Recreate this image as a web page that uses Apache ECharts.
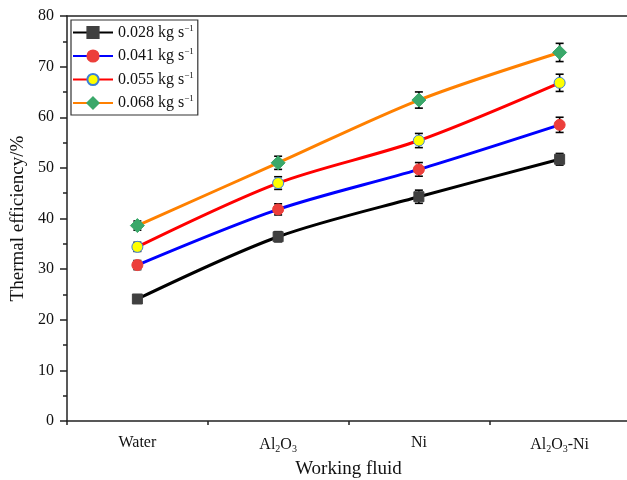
<!DOCTYPE html>
<html>
<head>
<meta charset="utf-8">
<script src="https://cdn.jsdelivr.net/npm/echarts@6/dist/echarts.min.js"></script>
<style>html,body{margin:0;padding:0;background:#fff}#c{width:627px;height:480px}</style>
</head>
<body>
<div id="c"></div>
<script>
const categories = ['Water', 'Al2O3', 'Ni', 'Al2O3-Ni'];
const seriesNames = ['0.028 kg s-1', '0.041 kg s-1', '0.055 kg s-1', '0.068 kg s-1'];
const values028 = [24.1, 36.4, 44.3, 51.7];
const values041 = [30.8, 41.8, 49.7, 58.5];
const values055 = [34.4, 47.0, 55.4, 66.8];
const values068 = [38.6, 51.0, 63.4, 72.8];
const errors028 = [0.8, 1.0, 1.3, 1.15];
const errors041 = [0.9, 1.1, 1.35, 1.5];
const errors055 = [0.9, 1.25, 1.4, 1.7];
const errors068 = [0.9, 1.3, 1.6, 1.8];
const yTicks = [0, 10, 20, 30, 40, 50, 60, 70, 80];

const FONT = '"Liberation Serif", "Times New Roman", serif';
const chart = echarts.init(document.getElementById('c'), null, {renderer: 'canvas'});

const styles = [
  {line: '#000000', fill: '#404040', border: '#404040', symbol: 'rect', size: 10},
  {line: '#0000ff', fill: '#ec3f3b', border: '#ec3f3b', symbol: 'circle', size: 11},
  {line: '#ff0000', fill: '#ffff00', border: '#3b7fd8', symbol: 'circle', size: 11},
  {line: '#ff8000', fill: '#3aa86a', border: '#3aa86a', symbol: 'diamond', size: 14}
];
const vals = [values028, values041, values055, values068];
const errs = [errors028, errors041, errors055, errors068];

function catLabel(s) {
  let out = '';
  s.split(/(\d)/).forEach(p => {
    if (p === '') return;
    if (/^\d$/.test(p)) out += '{s|' + p + '}';
    else out += '{n|' + p + '}';
  });
  return out;
}
function legLabel(s) {
  const m = s.match(/^(.*s)(-1)$/);
  return '{n|' + m[1] + '}{p|\u22121}';
}

const series = [];
vals.forEach((v, i) => {
  series.push({
    type: 'custom',
    name: 'err' + i,
    xAxisIndex: 0, yAxisIndex: 0,
    z: 2,
    silent: true,
    data: v.map((y, k) => [k, y, errs[i][k]]),
    renderItem: function(params, api) {
      const x = api.value(0), y = api.value(1), e = api.value(2);
      const t = api.coord([x, y + e]);
      const b = api.coord([x, y - e]);
      const w = 4;
      const ls = {stroke: '#000', lineWidth: 1.6};
      return {type: 'group', children: [
        {type: 'line', shape: {x1: t[0], y1: t[1], x2: b[0], y2: b[1]}, style: ls},
        {type: 'line', shape: {x1: t[0] - w, y1: t[1], x2: t[0] + w, y2: t[1]}, style: ls},
        {type: 'line', shape: {x1: b[0] - w, y1: b[1], x2: b[0] + w, y2: b[1]}, style: ls}
      ]};
    }
  });
});
vals.forEach((v, i) => {
  const st = styles[i];
  series.push({
    type: 'line',
    name: seriesNames[i],
    data: v,
    smooth: 0.3,
    z: 3,
    symbol: st.symbol,
    symbolSize: st.size,
    lineStyle: {color: st.line, width: 3},
    itemStyle: {color: st.fill, borderColor: st.border, borderWidth: 1},
    emphasis: {disabled: true}
  });
});

const option = {
  animation: false,
  backgroundColor: '#fff',
  grid: {left: 67, width: 563, top: 16, bottom: 59, containLabel: false, outerBoundsMode: 'none'},
  legend: {
    data: seriesNames,
    orient: 'vertical',
    left: 71, top: 20,
    itemWidth: 40, itemHeight: 14,
    itemGap: 7,
    padding: [4, 4, 4, 1],
    borderColor: '#333', borderWidth: 1.2,
    formatter: legLabel,
    textStyle: {
      fontFamily: FONT, fontSize: 16, color: '#111',
      rich: {
        n: {fontFamily: FONT, fontSize: 16, color: '#111'},
        p: {fontFamily: FONT, fontSize: 9, color: '#111', padding: [0, 0, 8, 0]}
      }
    }
  },
  xAxis: [{
    type: 'category',
    data: categories,
    boundaryGap: true,
    name: 'Working fluid',
    nameLocation: 'middle',
    nameGap: 39,
    nameTextStyle: {fontFamily: FONT, fontSize: 19, color: '#111'},
    axisLine: {lineStyle: {color: '#222', width: 1.5}},
    axisTick: {alignWithLabel: true, length: 7, lineStyle: {color: '#222', width: 1.5}},
    axisLabel: {
      margin: 14,
      interval: 0,
      formatter: catLabel,
      fontFamily: FONT, fontSize: 16,
      color: '#111',
      rich: {
        n: {fontFamily: FONT, fontSize: 16, color: '#111'},
        s: {fontFamily: FONT, fontSize: 10, color: '#111', padding: [9, 0, 0, 0]}
      }
    },
    splitLine: {show: false}
  }, {
    type: 'category',
    data: categories,
    boundaryGap: true,
    position: 'bottom',
    axisLine: {show: false},
    axisTick: {show: true, interval: 0, length: 4, lineStyle: {color: '#222', width: 1.5}},
    axisLabel: {show: false},
    splitLine: {show: false}
  }, {
    type: 'category',
    data: categories,
    position: 'top',
    axisLine: {show: true, lineStyle: {color: '#222', width: 1.5}},
    axisTick: {show: false},
    axisLabel: {show: false},
    splitLine: {show: false}
  }],
  yAxis: {
    type: 'value',
    min: yTicks[0], max: yTicks[yTicks.length - 1], interval: 10,
    name: 'Thermal efficiency/%',
    nameLocation: 'middle',
    nameGap: 35,
    nameTextStyle: {fontFamily: FONT, fontSize: 19, color: '#111'},
    axisLine: {show: true, lineStyle: {color: '#222', width: 1.5}},
    axisTick: {show: true, length: 7, lineStyle: {color: '#222', width: 1.5}},
    minorTick: {show: true, splitNumber: 2, length: 4, lineStyle: {color: '#222', width: 1.5}},
    axisLabel: {fontFamily: FONT, fontSize: 16, color: '#111', margin: 13},
    splitLine: {show: false}
  },
  series: series
};
chart.setOption(option);
</script>
</body>
</html>
